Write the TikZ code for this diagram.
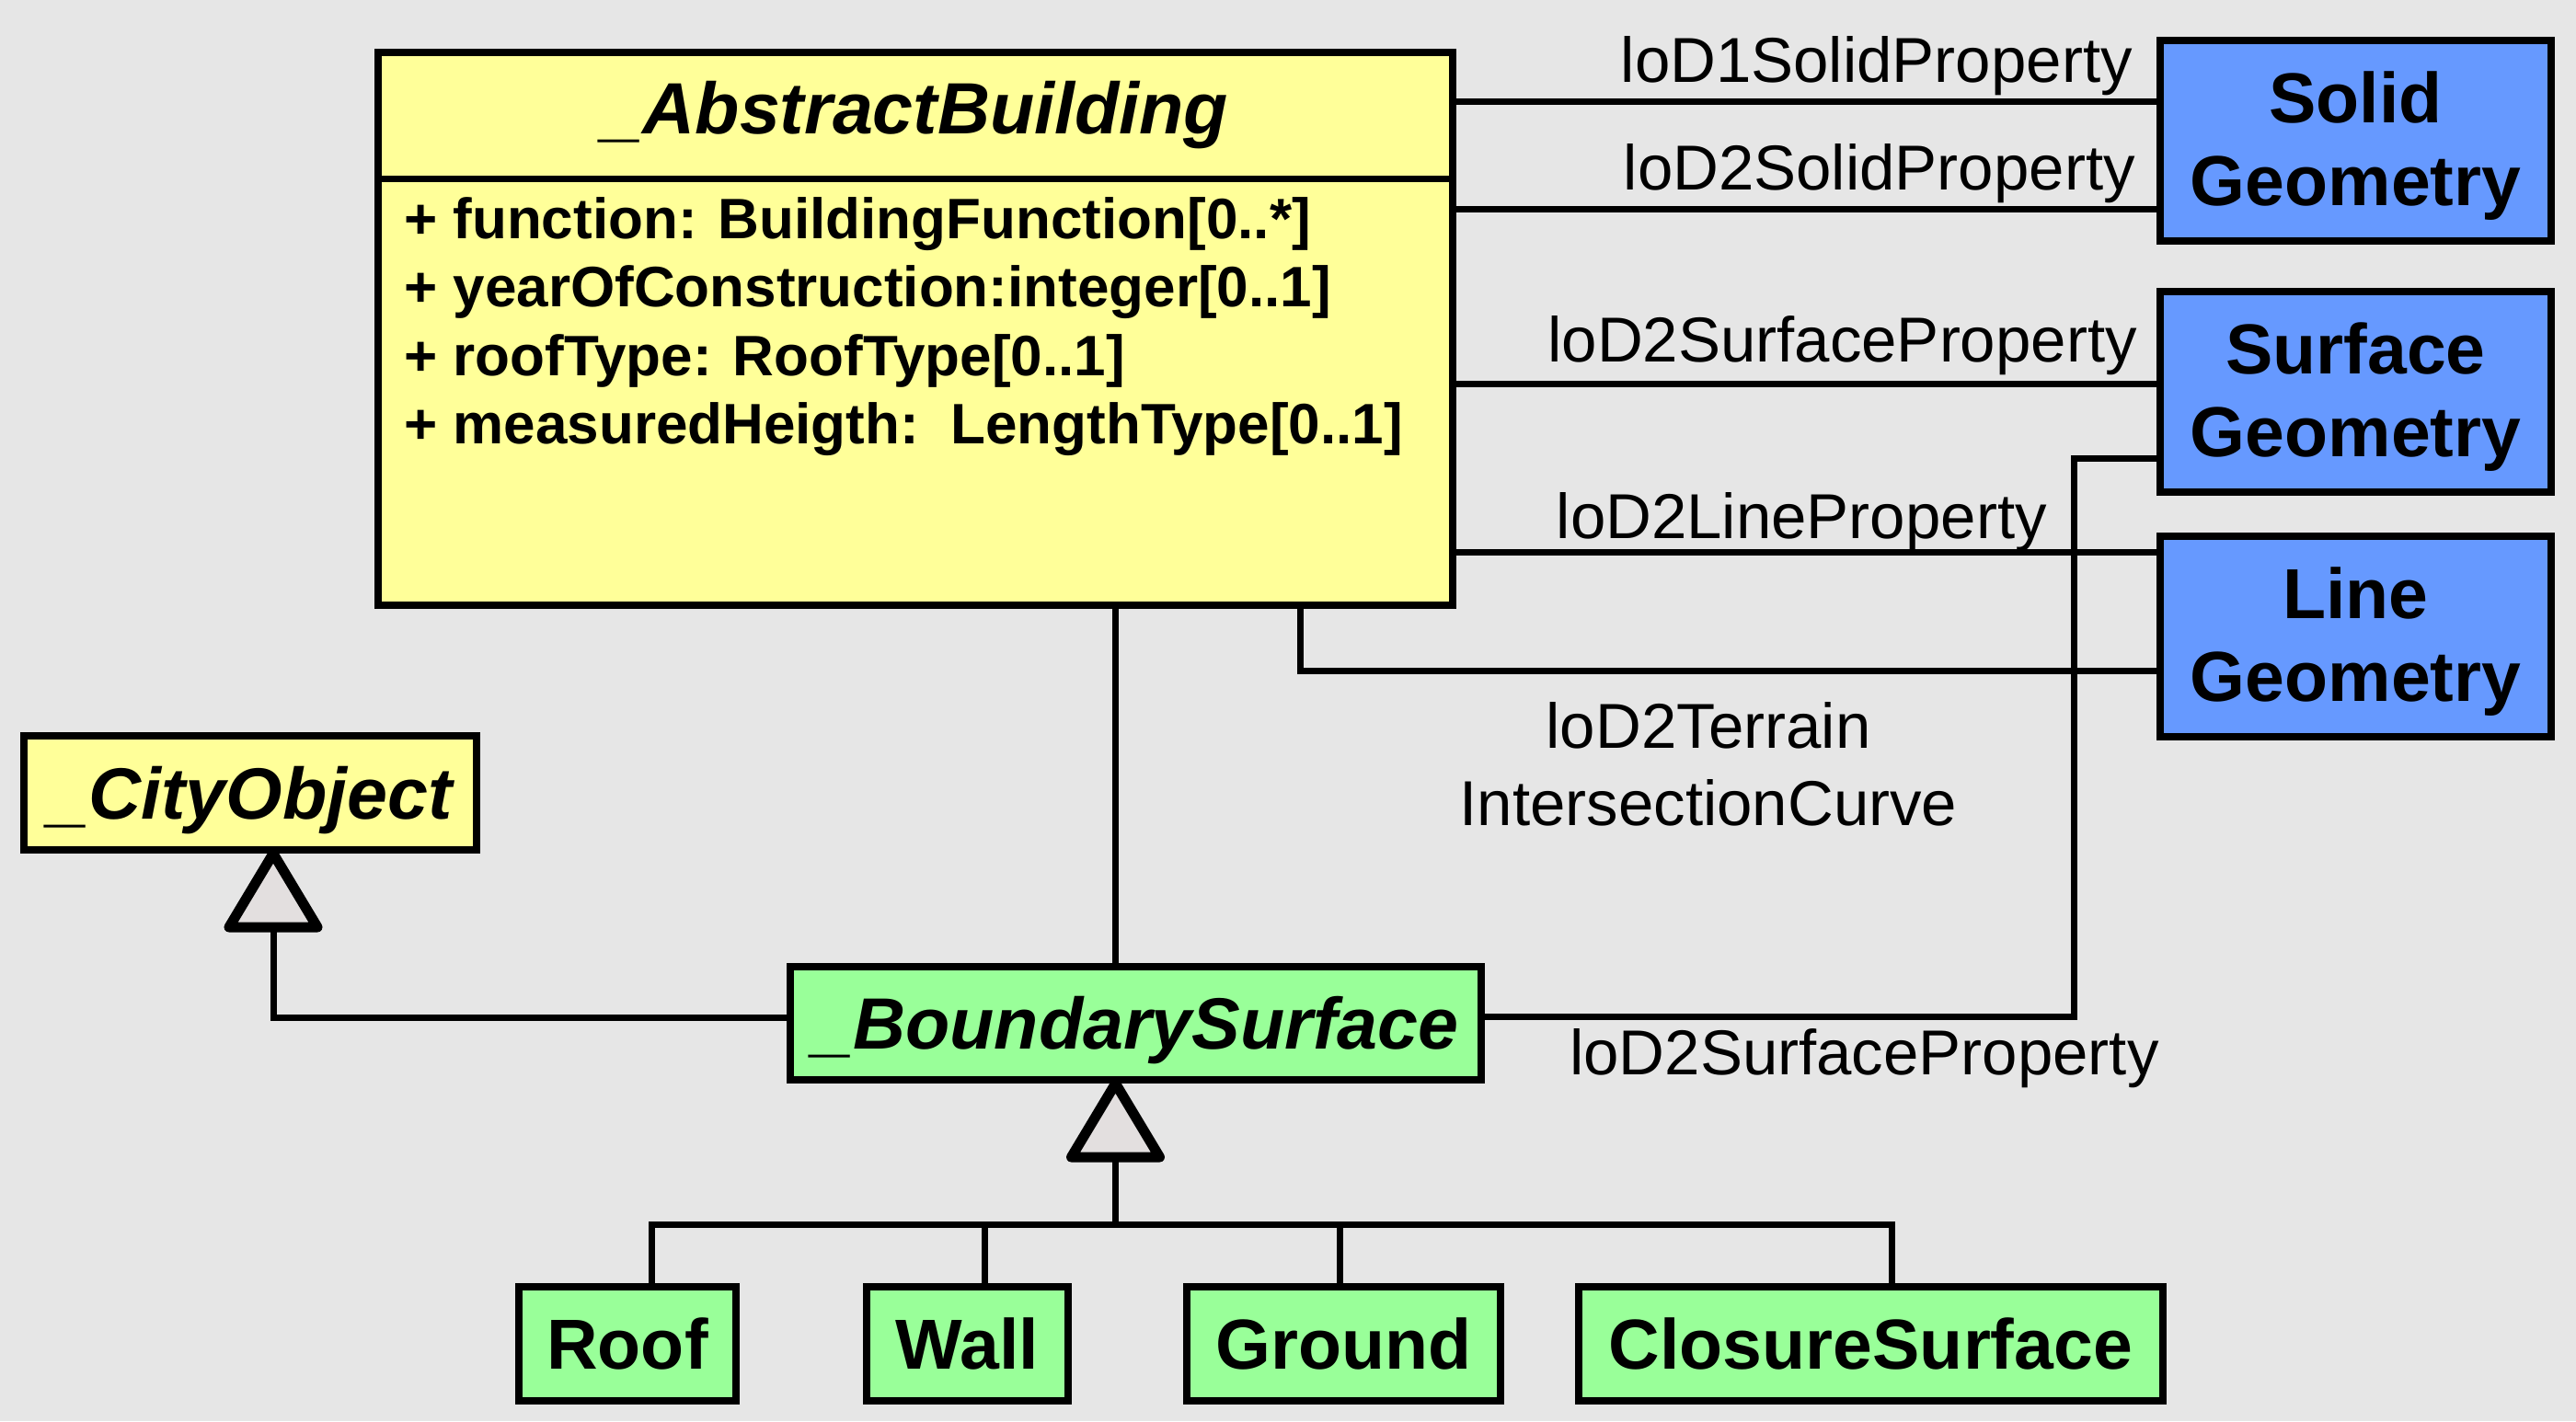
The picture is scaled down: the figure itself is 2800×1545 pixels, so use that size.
\documentclass[tikz,border=0pt]{standalone}
\usepackage{fontspec}
\setmainfont{Liberation Sans}
\definecolor{bgc}{HTML}{E6E6E6}
\definecolor{yelc}{HTML}{FFFF99}
\definecolor{grnc}{HTML}{99FF99}
\definecolor{bluc}{HTML}{6699FF}
\definecolor{tric}{HTML}{E3DFDF}
\begin{document}
\begin{tikzpicture}[x=1pt,y=-1pt,
  boxs/.style={draw=black, line width=8pt, inner sep=0pt},
  clsbox/.style={boxs, text height=55pt, text depth=0pt, font=\bfseries\fontsize{77}{90}\selectfont},
  absbox/.style={boxs, text height=56pt, text depth=0pt, font=\bfseries\itshape\fontsize{79}{90}\selectfont},
  geobox/.style={boxs, fill=bluc, minimum width=425pt, minimum height=218pt},
  geotxt/.style={inner sep=0pt, align=center, yshift=-6pt, font=\bfseries\fontsize{77}{90}\selectfont},
  conn/.style={line width=7pt},
  lbl/.style={inner sep=0pt, font=\fontsize{69}{84}\selectfont},
  attr/.style={inner sep=0pt, anchor=base west, font=\bfseries\fontsize{62}{74}\selectfont},
  gentri/.style={draw=black, fill=tric, line width=11pt, line join=round}
]
\useasboundingbox (0,0) rectangle (2800,1545);
\fill[bgc] (0,0) rectangle (2800,1545);

% ---- nodes
\node[boxs, fill=yelc, minimum width=1168pt, minimum height=601pt] (ab) at (995,357.5) {};
\node[inner sep=0pt, anchor=base, font=\bfseries\itshape\fontsize{79}{90}\selectfont] (abt) at (995,145) {\_AbstractBuilding};
\coordinate (div) at (0,194);
\draw[line width=7pt] (ab.west |- div) -- (ab.east |- div);
\node[attr] (a1) at (439,259) {+ function: BuildingFunction[0..*]};
\node[attr] (a2) at (439,333) {+ yearOfConstruction:integer[0..1]};
\node[attr] (a3) at (439,408) {+ roofType: RoofType[0..1]};
\node[attr] (a4) at (439,482) {+ measuredHeigth:\ \ LengthType[0..1]};

\node[geobox] (sg)  at (2560.5,152.5) {};
\node[geotxt] (sgt) at (sg) {Solid\\Geometry};
\node[geobox] (sfg) at (2560.5,426) {};
\node[geotxt] (sfgt) at (sfg) {Surface\\Geometry};
\node[geobox] (lg)  at (2560.5,692) {};
\node[geotxt] (lgt) at (lg) {Line\\Geometry};

\node[absbox, fill=yelc, minimum width=492pt, minimum height=124pt] (co) at (272,862) {\_CityObject};
\node[absbox, fill=grnc, minimum width=751pt, minimum height=123pt] (bs) at (1234.5,1112.5) {\_BoundarySurface};

\node[clsbox, fill=grnc, minimum width=236pt, minimum height=124pt] (roof) at (682,1461) {Roof};
\node[clsbox, fill=grnc, minimum width=219pt, minimum height=124pt] (wall) at (1051.5,1461) {Wall};
\node[clsbox, fill=grnc, minimum width=341pt, minimum height=124pt] (ground) at (1460.5,1461) {Ground};
\node[clsbox, fill=grnc, minimum width=635pt, minimum height=124pt] (closure) at (2033.5,1461) {ClosureSurface};

% ---- associations AbstractBuilding -> geometries
\coordinate (c1) at (0,110);
\coordinate (c2) at (0,227);
\coordinate (c3) at (0,417);
\coordinate (c4) at (0,600);
\draw[conn] (ab.east |- c1) -- (sg.west |- c1);
\draw[conn] (ab.east |- c2) -- (sg.west |- c2);
\draw[conn] (ab.east |- c3) -- (sfg.west |- c3);
\draw[conn] (ab.east |- c4) -- (lg.west |- c4);
\coordinate (tj) at (1413,729);
\draw[conn] (ab.south -| tj) -- (tj) -- (tj -| lg.west);

\node[lbl, anchor=base east] (l1) at (2318,89) {loD1SolidProperty};
\node[lbl, anchor=base east] (l2) at (2321,206) {loD2SolidProperty};
\node[lbl, anchor=base east] (l3) at (2323,393) {loD2SurfaceProperty};
\node[lbl, anchor=base east] (l4) at (2225,585) {loD2LineProperty};
\node[lbl, anchor=base] (l5) at (1857,813) {loD2Terrain};
\node[lbl, anchor=base] (l6) at (1857,897) {IntersectionCurve};
\node[lbl, anchor=base west] (l7) at (1706,1168) {loD2SurfaceProperty};

% ---- BoundarySurface -> Surface Geometry
\coordinate (sj) at (2254,498);
\draw[conn] ([yshift=7.5pt]bs.east) -| (sj) -- (sj -| sfg.west);

% ---- generalization BoundarySurface -> CityObject
\coordinate (t1) at ([xshift=25pt]co.south);
\coordinate (t1b) at ([yshift=-82pt]t1);
\draw[conn] (t1b) |- ([yshift=6pt]bs.west);
\draw[gentri] (t1) -- ++(-48,80) -- ++(96,0) -- cycle;

% ---- AbstractBuilding -- BoundarySurface
\coordinate (t2) at ([xshift=-22pt]bs.south);
\coordinate (t2b) at ([yshift=-82pt]t2);
\draw[conn] (ab.south -| t2) -- (bs.north -| t2);

% ---- generalization tree
\coordinate (bar) at (0,1331);
\draw[conn] (t2b) -- (t2b |- bar);
\draw[conn] ([xshift=26pt]roof.north) |- ([xshift=22.5pt]closure.north |- bar) -- ([xshift=22.5pt]closure.north);
\draw[conn] ([xshift=18.5pt]wall.north) -- ([xshift=18.5pt]wall.north |- bar);
\draw[conn] ([xshift=-4.5pt]ground.north) -- ([xshift=-4.5pt]ground.north |- bar);
\draw[gentri] (t2) -- ++(-48,80) -- ++(96,0) -- cycle;
\end{tikzpicture}
\end{document}
